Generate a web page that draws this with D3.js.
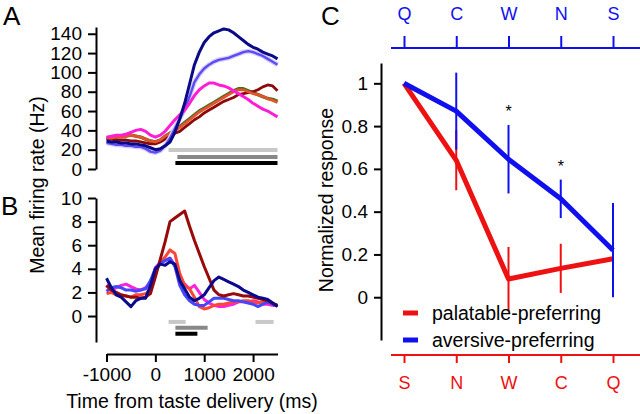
<!DOCTYPE html>
<html>
<head>
<meta charset="utf-8">
<script src="https://cdnjs.cloudflare.com/ajax/libs/d3/7.8.5/d3.min.js"></script>
<style>
  body { margin: 0; background: #fff; }
  svg text { font-family: "Liberation Sans", Arial, sans-serif; }
</style>
</head>
<body>
<div id="fig"></div>
<script>

// time axis of panels A and B (ms)
var times = [-1000, -900, -800, -700, -600, -500, -400, -300, -200, -100,
             0, 100, 200, 300, 400, 500, 600, 700, 800, 900,
             1000, 1100, 1200, 1300, 1400, 1500, 1600, 1700, 1800, 1900,
             2000, 2100, 2200, 2300, 2400, 2500];

// panel A firing rates (Hz)
var aGreen   = [32, 32, 33, 34, 34, 35, 34, 33, 31, 29, 28, 30, 34, 37, 41, 44, 48, 52, 56, 60, 63, 66, 69, 72, 75, 78, 81, 83, 83, 81, 79, 77, 75, 73, 72, 70];
var aMaroon  = [31, 31, 30, 30, 30, 29, 29, 28, 27, 26, 26, 28, 31, 34, 37, 39, 43, 47, 51, 54, 58, 61, 64, 67, 70, 72, 74, 77, 78, 79, 80, 82, 85, 87, 86, 81];
var aTomato  = [32, 32, 33, 33, 34, 35, 34, 33, 31, 29, 28, 30, 34, 37, 40, 43, 47, 51, 55, 59, 62, 65, 68, 71, 74, 77, 80, 82, 82, 80, 78, 77, 75, 73, 71, 69];
var aSlate   = [27, 26, 25, 25, 24, 24, 23, 23, 21, 18, 17, 19, 24, 32, 42, 52, 62, 75, 90, 98, 104, 108, 111, 113, 114, 115, 117, 119, 121, 122, 121, 119, 117, 114, 111, 108];
var aMagenta = [33, 34, 35, 35, 36, 38, 40, 41, 39, 35, 33, 35, 39, 45, 51, 56, 61, 68, 76, 82, 86, 89, 89, 87, 86, 84, 81, 78, 75, 72, 68, 65, 62, 60, 57, 54];
var aNavy    = [29, 28, 28, 27, 27, 26, 26, 25, 24, 22, 20, 21, 24, 28, 38, 52, 68, 88, 108, 121, 131, 137, 141, 143, 145, 144, 141, 137, 133, 129, 126, 124, 121, 119, 117, 114];

// panel B firing rates (Hz)
var bMagenta = [2.6, 2.2, 2.4, 2.6, 2.7, 2.5, 2.3, 2.2, 2.4, 2.8, 4.1, 4.5, 4.7, 4.9, 4.3, 3.2, 2.7, 2.3, 2.6, 2.0, 1.4, 1.1, 0.9, 0.8, 0.8, 0.9, 1.0, 1.2, 1.2, 1.2, 1.3, 1.2, 1.0, 1.0, 0.9, 0.9];
var bRed     = [1.9, 2.0, 1.8, 1.7, 1.7, 1.6, 1.8, 1.8, 1.9, 2.2, 3.8, 4.5, 5.0, 5.6, 5.3, 3.6, 2.6, 2.3, 1.6, 0.8, 0.6, 0.7, 0.9, 1.0, 1.0, 1.1, 1.2, 1.2, 1.3, 1.3, 1.2, 1.1, 1.2, 1.2, 1.0, 0.9];
var bBlue    = [2.1, 2.4, 2.5, 2.4, 2.2, 2.2, 2.1, 2.2, 2.3, 3.0, 4.0, 4.5, 4.7, 4.9, 4.2, 2.6, 1.8, 1.3, 1.0, 0.9, 0.9, 1.2, 1.5, 1.5, 1.5, 1.4, 1.3, 1.3, 1.2, 1.1, 1.0, 0.8, 1.0, 1.2, 1.0, 0.9];
var bMaroon  = [2.6, 2.2, 2.0, 1.8, 1.7, 1.6, 1.6, 1.5, 1.6, 1.9, 3.3, 4.8, 6.3, 8.0, 8.3, 8.6, 8.9, 7.6, 6.4, 5.3, 4.2, 3.2, 2.2, 1.8, 1.7, 1.8, 1.9, 1.8, 1.7, 1.7, 1.6, 1.5, 1.4, 1.3, 1.1, 0.9];
var bNavy    = [3.2, 2.4, 1.8, 1.6, 1.2, 0.8, 1.3, 1.5, 1.5, 2.6, 4.0, 4.4, 4.3, 4.6, 4.4, 3.0, 2.3, 1.6, 1.3, 1.5, 1.8, 2.4, 3.0, 3.3, 3.1, 2.9, 2.7, 2.5, 2.2, 2.0, 1.8, 1.6, 1.5, 1.4, 1.1, 0.8];

// significance bars (start ms, end ms, level)
var aBarStart = [270, 450, 410];
var aBarEnd   = [2500, 2500, 2500];
var aBarLevel = [19.7, 12.4, 6.2];
var bBarStart = [270, 2050, 410, 410];
var bBarEnd   = [620, 2420, 1070, 860];
var bBarLevel = [-0.5, -0.5, -1.0, -1.5];

var timeTicks  = [-1000, 0, 1000, 2000];
var rateTicksA = [0, 20, 40, 60, 80, 100, 120, 140];
var rateTicksB = [0, 2, 4, 6, 8, 10];

// panel C
var tastesTop     = ["Q", "C", "W", "N", "S"];
var tastesBottom  = ["S", "N", "W", "C", "Q"];
var aversiveMean  = [1.0, 0.87, 0.645, 0.46, 0.22];
var aversiveErr   = [0, 0.18, 0.16, 0.09, 0.22];
var palatableMean = [1.0, 0.64, 0.085, 0.135, 0.18];
var palatableErr  = [0, 0.14, 0.15, 0.115, 0.08];
var starred       = ["W", "N"];
var responseTicks = [0, 0.2, 0.4, 0.6, 0.8, 1];
var legendLabels  = ["palatable-preferring", "aversive-preferring"];

function init() {

  var w = 640;
  var h = 414;
  var red = "#ee1111";
  var blue = "#1010ee";

  var svg = d3.select("#fig")
              .append("svg")
              .attr("width", w)
              .attr("height", h);

  var xScale = d3.scaleLinear().domain([-1000, 2500]).range([106.5, 277.5]);
  var yA = d3.scaleLinear().domain([0, 147]).range([169, 27]);
  var yB = d3.scaleLinear().domain([-2.2, 10]).range([342, 198]);

  function drawTraces(y, traces) {
    var line = d3.line()
                 .x(function(d, i) { return xScale(times[i]); })
                 .y(function(d) { return y(d); });
    traces.forEach(function(t) {
      if (t.halo) {
        svg.append("path")
           .datum(t.values)
           .attr("d", line)
           .attr("fill", "none")
           .attr("stroke", t.halo)
           .attr("stroke-width", t.width + 2.5);
      }
      svg.append("path")
         .datum(t.values)
         .attr("d", line)
         .attr("fill", "none")
         .attr("stroke", t.color)
         .attr("stroke-width", t.width)
         .attr("stroke-linejoin", "round");
    });
  }

  function drawBars(y, starts, ends, levels, colors) {
    svg.selectAll(null)
       .data(starts)
       .enter()
       .append("line")
       .attr("x1", function(d) { return xScale(d); })
       .attr("x2", function(d, i) { return xScale(ends[i]); })
       .attr("y1", function(d, i) { return y(levels[i]); })
       .attr("y2", function(d, i) { return y(levels[i]); })
       .attr("stroke", function(d, i) { return colors[i]; })
       .attr("stroke-width", 4);
  }

  function styleAxis(g, size, color) {
    g.attr("font-size", size)
     .attr("font-family", "Liberation Sans, Arial, sans-serif")
     .attr("color", color);
    g.selectAll("path, line").attr("stroke-width", 2);
  }

  var plain = function(d) { return String(d); };

  // ---- panel A
  drawTraces(yA, [
    { values: aGreen, color: "#3f6e22", width: 3.4 },
    { values: aMaroon, color: "#8c0a0a", width: 2.8 },
    { values: aTomato, color: "#e5522c", width: 2.8 },
    { values: aSlate, color: "#5a4cf2", width: 2.4, halo: "#d8ccff" },
    { values: aMagenta, color: "#ff1ed6", width: 3 },
    { values: aNavy, color: "#0a0a86", width: 3 }
  ]);
  drawBars(yA, aBarStart, aBarEnd, aBarLevel, ["#c8c8c8", "#888888", "#000000"]);

  var axA = svg.append("g")
     .attr("transform", "translate(96,0)")
     .call(d3.axisLeft(yA).tickValues(rateTicksA).tickFormat(plain)
              .tickSize(8).tickSizeOuter(0).tickPadding(6));
  styleAxis(axA, 19, "#000");

  // ---- panel B
  drawTraces(yB, [
    { values: bMagenta, color: "#ff22dd", width: 3 },
    { values: bRed, color: "#ff4636", width: 3 },
    { values: bBlue, color: "#4646ff", width: 3 },
    { values: bMaroon, color: "#980a0a", width: 3 },
    { values: bNavy, color: "#0a0a8c", width: 3 }
  ]);
  drawBars(yB, bBarStart, bBarEnd, bBarLevel, ["#c8c8c8", "#c8c8c8", "#888888", "#000000"]);

  var axB = svg.append("g")
     .attr("transform", "translate(96,0)")
     .call(d3.axisLeft(yB).tickValues(rateTicksB).tickFormat(plain)
              .tickSize(8).tickSizeOuter(0).tickPadding(6));
  styleAxis(axB, 19, "#000");

  var axT = svg.append("g")
     .attr("transform", "translate(0,354)")
     .call(d3.axisBottom(xScale).tickValues(timeTicks).tickFormat(plain)
              .tickSize(8).tickSizeOuter(0).tickPadding(6));
  styleAxis(axT, 19, "#000");

  svg.append("text")
     .attr("x", 192)
     .attr("y", 408)
     .attr("text-anchor", "middle")
     .attr("font-size", 19.5)
     .text("Time from taste delivery (ms)");

  svg.append("text")
     .attr("transform", "translate(44,185) rotate(-90)")
     .attr("text-anchor", "middle")
     .attr("font-size", 19.5)
     .text("Mean firing rate (Hz)");

  svg.append("text").attr("x", 3).attr("y", 25).attr("font-size", 26).text("A");
  svg.append("text").attr("x", 1).attr("y", 215).attr("font-size", 26).text("B");
  svg.append("text").attr("x", 321).attr("y", 25).attr("font-size", 26).text("C");

  // ---- panel C
  var xTop = d3.scalePoint().domain(tastesTop).range([404, 613]);
  var xBot = d3.scalePoint().domain(tastesBottom).range([404, 613]);
  var yC = d3.scaleLinear().domain([-0.2, 1.095]).range([340, 63]);

  var axC = svg.append("g")
     .attr("transform", "translate(381,0)")
     .call(d3.axisLeft(yC).tickValues(responseTicks).tickFormat(d3.format("~g"))
              .tickSize(7).tickSizeOuter(0).tickPadding(6));
  styleAxis(axC, 19, "#000");

  var axTop = svg.append("g")
     .attr("transform", "translate(0,48)")
     .call(d3.axisTop(xTop).tickSize(12).tickSizeOuter(0).tickPadding(16));
  axTop.select(".domain").remove();
  axTop.append("line").attr("x1", 391).attr("x2", 640).attr("stroke", "currentColor");
  styleAxis(axTop, 18, blue);

  var axBot = svg.append("g")
     .attr("transform", "translate(0,355)")
     .call(d3.axisBottom(xBot).tickSize(8).tickSizeOuter(0).tickPadding(13));
  axBot.select(".domain").remove();
  axBot.append("line").attr("x1", 391).attr("x2", 640).attr("stroke", "currentColor");
  styleAxis(axBot, 18, red);

  function drawGroup(xs, cats, means, errs, color) {
    svg.selectAll(null)
       .data(cats)
       .enter()
       .append("line")
       .attr("x1", function(d) { return xs(d); })
       .attr("x2", function(d) { return xs(d); })
       .attr("y1", function(d, i) { return yC(means[i] - errs[i]); })
       .attr("y2", function(d, i) { return yC(means[i] + errs[i]); })
       .attr("stroke", color)
       .attr("stroke-width", 2);

    var line = d3.line()
                 .x(function(d, i) { return xs(cats[i]); })
                 .y(function(d) { return yC(d); });

    svg.append("path")
       .datum(means)
       .attr("d", line)
       .attr("fill", "none")
       .attr("stroke", color)
       .attr("stroke-width", 5)
       .attr("stroke-linejoin", "round");
  }

  drawGroup(xBot, tastesBottom, palatableMean, palatableErr, red);
  drawGroup(xTop, tastesTop, aversiveMean, aversiveErr, blue);

  svg.selectAll(null)
     .data(starred)
     .enter()
     .append("text")
     .attr("x", function(d) { return xTop(d); })
     .attr("y", function(d) {
       var i = tastesTop.indexOf(d);
       return yC(aversiveMean[i] + aversiveErr[i]) - 8;
     })
     .attr("text-anchor", "middle")
     .attr("font-size", 16)
     .text("*");

  svg.append("text")
     .attr("transform", "translate(333,200) rotate(-90)")
     .attr("text-anchor", "middle")
     .attr("font-size", 19.5)
     .text("Normalized response");

  var legend = svg.selectAll(null)
     .data(legendLabels)
     .enter()
     .append("g")
     .attr("transform", function(d, i) { return "translate(403," + (313 + i * 27) + ")"; });

  legend.append("line")
     .attr("x2", 15)
     .attr("stroke", function(d, i) { return i === 0 ? red : blue; })
     .attr("stroke-width", 5);

  legend.append("text")
     .attr("x", 29)
     .attr("dy", "0.35em")
     .attr("font-size", 19.5)
     .text(function(d) { return d; });
}

window.onload = init;
</script>
</body>
</html>
